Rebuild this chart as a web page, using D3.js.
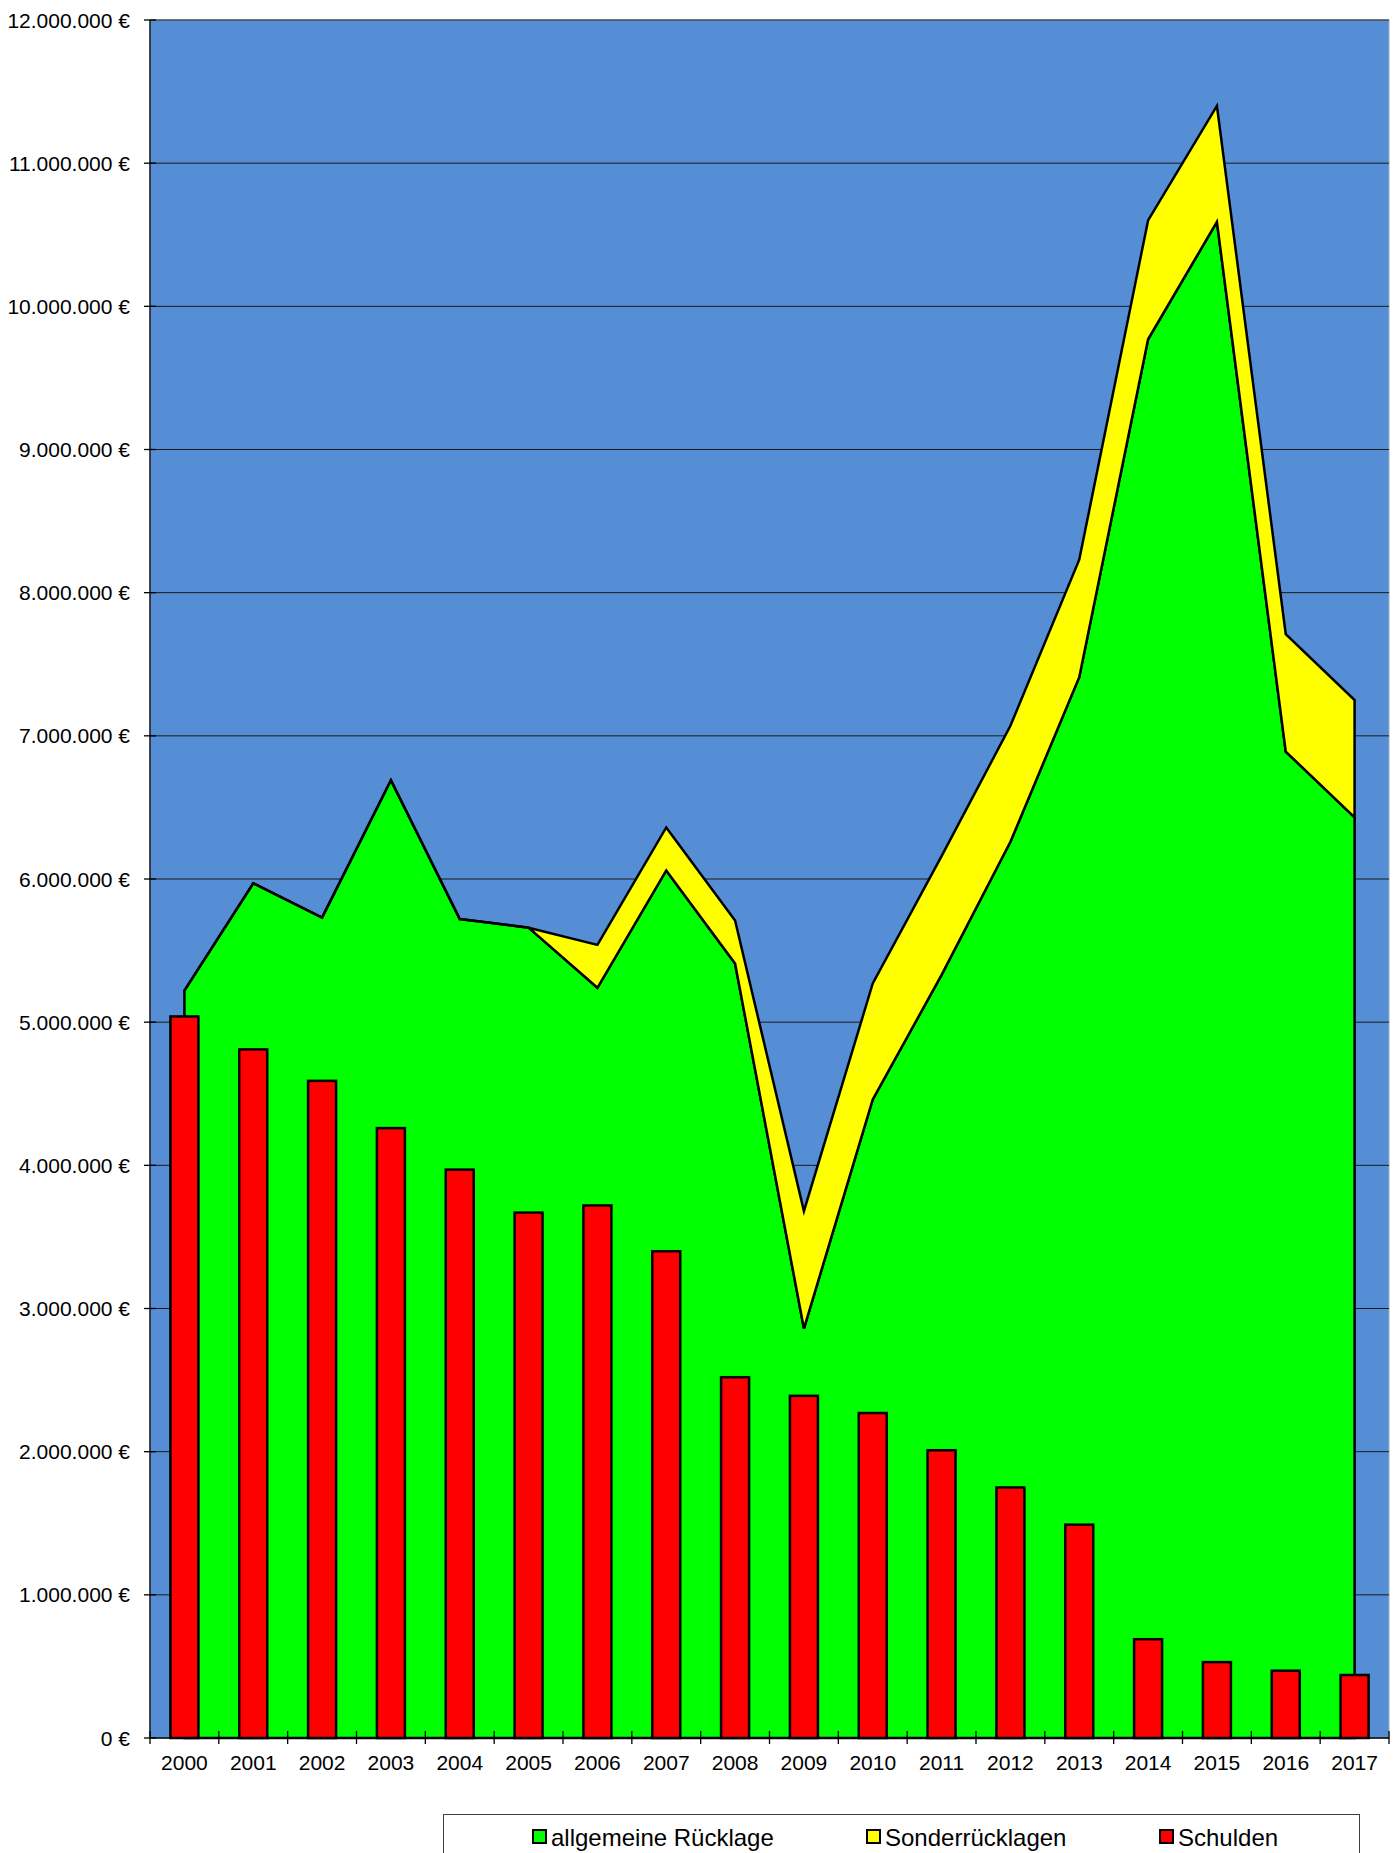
<!DOCTYPE html>
<html>
<head>
<meta charset="utf-8">
<script src="https://cdn.jsdelivr.net/npm/d3@7"></script>
<style>
  html, body { margin: 0; padding: 0; background: #fff; }
  svg { display: block; font-family: "Liberation Sans", Arial, sans-serif; }
</style>
</head>
<body>
<svg id="chart" width="1400" height="1853"></svg>
<script>
// ---- Data (values in euro) ----
const years = ["2000","2001","2002","2003","2004","2005","2006","2007","2008","2009","2010","2011","2012","2013","2014","2015","2016","2017"];
const allgemeineRuecklage = [5220000, 5970000, 5730000, 6690000, 5720000, 5660000, 5240000, 6060000, 5410000, 2860000, 4460000, 5330000, 6260000, 7410000, 9770000, 10590000, 6890000, 6430000];
const sonderruecklagen   = [0, 0, 0, 0, 0, 0, 300000, 300000, 300000, 820000, 810000, 830000, 810000, 820000, 830000, 810000, 820000, 820000];
const schulden           = [5040000, 4810000, 4590000, 4260000, 3970000, 3670000, 3720000, 3400000, 2520000, 2390000, 2270000, 2010000, 1750000, 1490000, 690000, 530000, 470000, 440000];
const yTickValues = [0, 1000000, 2000000, 3000000, 4000000, 5000000, 6000000, 7000000, 8000000, 9000000, 10000000, 11000000, 12000000];
const yTickLabels = ["0 €", "1.000.000 €", "2.000.000 €", "3.000.000 €", "4.000.000 €", "5.000.000 €", "6.000.000 €", "7.000.000 €", "8.000.000 €", "9.000.000 €", "10.000.000 €", "11.000.000 €", "12.000.000 €"];
const seriesNames = ["allgemeine Rücklage", "Sonderrücklagen", "Schulden"];
const seriesColors = ["#00ff00", "#ffff00", "#ff0000"];

(function () {
// ---- Layout ----
const pL = 150, pR = 1389, pT = 20, pB = 1738;
const svg = d3.select("#chart");

const x = d3.scaleBand().domain(years).range([pL, pR]).padding(0);
const y = d3.scaleLinear().domain([0, 12000000]).range([pB, pT]);
const cx = d => x(d) + x.bandwidth() / 2;

const rows = years.map((yr, i) => ({
  year: yr,
  g: allgemeineRuecklage[i],
  s: sonderruecklagen[i],
  d: schulden[i]
}));

// Plot background
svg.append("rect")
  .attr("x", pL).attr("y", pT)
  .attr("width", pR - pL).attr("height", pB - pT)
  .attr("fill", "#558ed5")
  .attr("stroke", "#9aaac2").attr("stroke-width", 1);

// Gridlines
svg.append("g").selectAll("line")
  .data(yTickValues.filter(v => v > 0))
  .join("line")
  .attr("x1", pL).attr("x2", pR)
  .attr("y1", d => y(d)).attr("y2", d => y(d))
  .attr("stroke", "#1a1a1a").attr("stroke-width", 1);

// Green area
const areaG = d3.area()
  .x(d => cx(d.year))
  .y0(y(0))
  .y1(d => y(d.g));
svg.append("path")
  .datum(rows)
  .attr("d", areaG)
  .attr("fill", seriesColors[0])
  .attr("stroke", "#000").attr("stroke-width", 2.5)
  .attr("stroke-linejoin", "miter");

// Yellow stacked area
const areaS = d3.area()
  .x(d => cx(d.year))
  .y0(d => y(d.g))
  .y1(d => y(d.g + d.s));
svg.append("path")
  .datum(rows)
  .attr("d", areaS)
  .attr("fill", seriesColors[1])
  .attr("stroke", "#000").attr("stroke-width", 2.5)
  .attr("stroke-linejoin", "miter");

// Bars
const barW = 28;
svg.append("g").selectAll("rect")
  .data(rows)
  .join("rect")
  .attr("x", d => cx(d.year) - barW / 2)
  .attr("y", d => y(d.d))
  .attr("width", barW)
  .attr("height", d => y(0) - y(d.d))
  .attr("fill", seriesColors[2])
  .attr("stroke", "#000").attr("stroke-width", 2.5);

// Y axis
const yAxis = svg.append("g");
yAxis.append("line")
  .attr("x1", pL).attr("x2", pL)
  .attr("y1", pT).attr("y2", pB)
  .attr("stroke", "#000").attr("stroke-width", 1.3);
yAxis.selectAll("line.tick")
  .data(yTickValues)
  .join("line").attr("class", "tick")
  .attr("x1", pL - 6).attr("x2", pL + 6)
  .attr("y1", d => y(d)).attr("y2", d => y(d))
  .attr("stroke", "#000").attr("stroke-width", 1.3);
yAxis.selectAll("text")
  .data(yTickValues)
  .join("text")
  .attr("x", 130)
  .attr("y", d => y(d))
  .attr("dy", "0.36em")
  .attr("text-anchor", "end")
  .attr("font-size", 21)
  .attr("fill", "#000")
  .text((d, i) => yTickLabels[i]);

// X axis
const xAxis = svg.append("g");
xAxis.append("line")
  .attr("x1", pL).attr("x2", pR)
  .attr("y1", pB).attr("y2", pB)
  .attr("stroke", "#000").attr("stroke-width", 1.3);
const bounds = years.map(d => x(d)).concat([pR]);
xAxis.selectAll("line.tick")
  .data(bounds)
  .join("line").attr("class", "tick")
  .attr("x1", d => d).attr("x2", d => d)
  .attr("y1", pB - 7).attr("y2", pB + 6)
  .attr("stroke", "#000").attr("stroke-width", 1.3);
xAxis.selectAll("text")
  .data(years)
  .join("text")
  .attr("x", d => cx(d))
  .attr("y", 1770)
  .attr("text-anchor", "middle")
  .attr("font-size", 21)
  .attr("fill", "#000")
  .text(d => d);

// Legend
const lg = svg.append("g");
lg.append("rect")
  .attr("x", 443.5).attr("y", 1814.5)
  .attr("width", 916).attr("height", 80)
  .attr("fill", "#fff")
  .attr("stroke", "#404040").attr("stroke-width", 1);
const legendX = [533, 867, 1160];
seriesNames.forEach((name, i) => {
  lg.append("rect")
    .attr("x", legendX[i]).attr("y", 1830)
    .attr("width", 13).attr("height", 13)
    .attr("fill", seriesColors[i])
    .attr("stroke", "#000").attr("stroke-width", 2);
  lg.append("text")
    .attr("x", legendX[i] + 18).attr("y", 1846)
    .attr("font-size", 24)
    .attr("fill", "#000")
    .text(name);
});
})();
</script>
</body>
</html>
